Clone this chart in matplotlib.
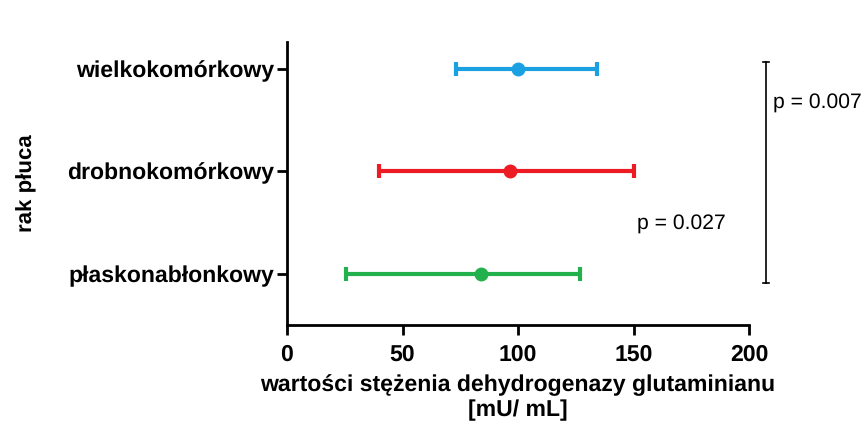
import matplotlib
matplotlib.use("Agg")
import matplotlib.pyplot as plt
from matplotlib import font_manager as fm

categories = ["płaskonabłonkowy", "drobnokomórkowy", "wielkokomórkowy"]
means = [84, 96.5, 100]
lower = [25.5, 40, 73]
upper = [127, 150, 134]
colors = ["#22B14C", "#ED1C24", "#1BA1E2"]
xticks = [0, 50, 100, 150, 200]
p_labels = ["p = 0.027", "p = 0.007"]

plt.rcParams['font.family'] = ['Liberation Sans', 'DejaVu Sans']
plt.rcParams['text.hinting'] = 'no_hinting'


def find_font(fname_key):
    for f in fm.fontManager.ttflist:
        if f.fname.endswith(fname_key):
            return f.fname
    return None


bold_path = find_font("LiberationSans-Bold.ttf")
reg_path = find_font("LiberationSans-Regular.ttf")


def fp(size, bold=True):
    path = bold_path if bold else reg_path
    if path:
        return fm.FontProperties(fname=path, size=size)
    return fm.FontProperties(family='DejaVu Sans', size=size,
                             weight='bold' if bold else 'normal')


fig = plt.figure(figsize=(8.67, 4.24), dpi=100)
ax = fig.add_axes([0.331, 0.2335, 0.533, 0.6675])

for i, (m, lo, hi, c) in enumerate(zip(means, lower, upper, colors)):
    ax.errorbar(m, i, xerr=[[m - lo], [hi - m]], fmt='o', color=c, ecolor=c,
                elinewidth=3, capsize=5, capthick=3, markersize=9, zorder=3)

ax.set_xlim(0, 200)
ax.set_ylim(-0.5, 2.26)
ax.set_xticks(xticks)
ax.set_xticklabels([str(t) for t in xticks], fontproperties=fp(16.6))
ax.set_yticks(range(len(categories)))
ax.set_yticklabels(categories, fontproperties=fp(16.6))
ax.spines['top'].set_visible(False)
ax.spines['right'].set_visible(False)
for s in ['left', 'bottom']:
    ax.spines[s].set_linewidth(2)
ax.tick_params(axis='both', width=2, length=7)
ax.tick_params(axis='x', pad=7)
ax.tick_params(axis='y', pad=2)

ax.set_xlabel("wartości stężenia dehydrogenazy glutaminianu\n[mU/ mL]",
              fontproperties=fp(16.6), labelpad=6, linespacing=1.2)
ax.set_ylabel("rak płuca", fontproperties=fp(16), labelpad=22)

# significance bracket
bx = 207.4
ax.plot([bx, bx], [-0.09, 2.06], color='black', lw=1.2, clip_on=False)
ax.plot([bx - 1.3, bx + 1.3], [2.06, 2.06], color='black', lw=1.2, clip_on=False)
ax.plot([bx - 1.3, bx + 1.3], [-0.09, -0.09], color='black', lw=1.2, clip_on=False)

ax.text(210.5, 1.66, p_labels[1], fontproperties=fp(15.2, bold=False),
        va='center', ha='left', clip_on=False)
ax.text(151.5, 0.48, p_labels[0], fontproperties=fp(15.2, bold=False),
        va='center', ha='left', clip_on=False)

fig.savefig("out.png", dpi=100)
